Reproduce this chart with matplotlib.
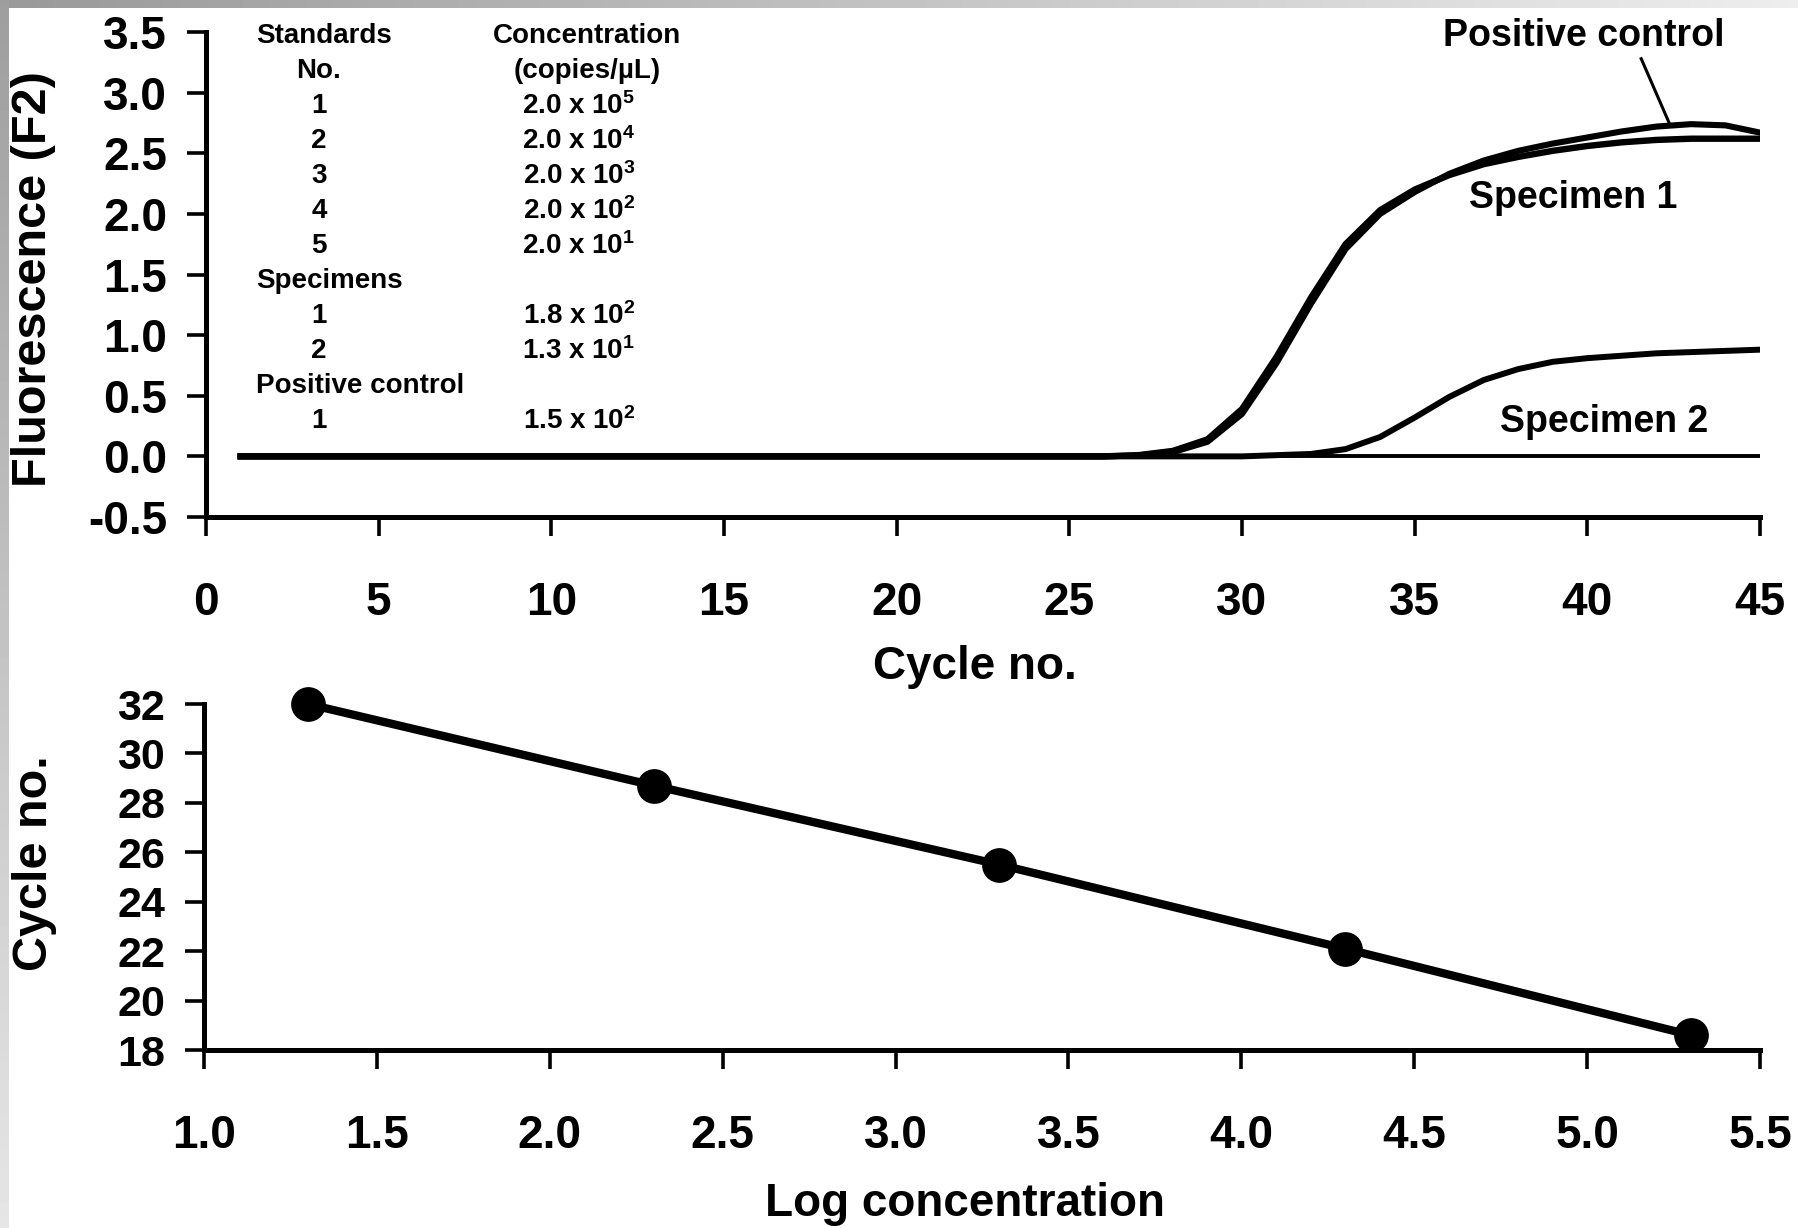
import numpy as np
import matplotlib
matplotlib.use("Agg")
import matplotlib.pyplot as plt

plt.rcParams['font.family'] = ['Liberation Sans', 'DejaVu Sans']
plt.rcParams['font.weight'] = 'bold'
plt.rcParams['mathtext.default'] = 'regular'

# amplification curves, fluorescence per cycle (cycles 1..45)
cycles = list(range(1, 46))
positive_control = [0.0, 0.0, 0.0, 0.0, 0.0, 0.0, 0.0, 0.0, 0.0, 0.0,
                    0.0, 0.0, 0.0, 0.0, 0.0, 0.0, 0.0, 0.0, 0.0, 0.0,
                    0.0, 0.0, 0.0, 0.0, 0.0, 0.0, 0.008, 0.035, 0.12, 0.35,
                    0.77, 1.26, 1.71, 2.0, 2.18, 2.33, 2.44, 2.52, 2.58, 2.63,
                    2.68, 2.72, 2.74, 2.73, 2.67]
specimen_1 = [0.0, 0.0, 0.0, 0.0, 0.0, 0.0, 0.0, 0.0, 0.0, 0.0,
              0.0, 0.0, 0.0, 0.0, 0.0, 0.0, 0.0, 0.0, 0.0, 0.0,
              0.0, 0.0, 0.0, 0.0, 0.0, 0.0, 0.01, 0.045, 0.14, 0.39,
              0.82, 1.31, 1.75, 2.03, 2.2, 2.32, 2.41, 2.47, 2.52, 2.56,
              2.59, 2.61, 2.62, 2.62, 2.62]
specimen_2 = [0.0, 0.0, 0.0, 0.0, 0.0, 0.0, 0.0, 0.0, 0.0, 0.0,
              0.0, 0.0, 0.0, 0.0, 0.0, 0.0, 0.0, 0.0, 0.0, 0.0,
              0.0, 0.0, 0.0, 0.0, 0.0, 0.0, 0.0, 0.0, 0.0, 0.0,
              0.01, 0.02, 0.06, 0.16, 0.32, 0.49, 0.63, 0.72, 0.78, 0.81,
              0.83, 0.85, 0.86, 0.87, 0.88]
negative = [0.0, 0.0, 0.0, 0.0, 0.0, 0.0, 0.0, 0.0, 0.0, 0.0,
            0.0, 0.0, 0.0, 0.0, 0.0, 0.0, 0.0, 0.0, 0.0, 0.0,
            0.0, 0.0, 0.0, 0.0, 0.0, 0.0, 0.0, 0.0, 0.0, 0.0,
            0.0, 0.0, 0.0, 0.0, 0.0, 0.0, 0.0, 0.0, 0.0, 0.0,
            0.0, 0.0, 0.0, 0.0, 0.0]

# standard curve
log_conc = [1.3, 2.3, 3.3, 4.3, 5.3]
ct_cycle = [32.0, 28.7, 25.5, 22.1, 18.6]

# table in the top panel
std_no = ['1', '2', '3', '4', '5']
std_conc = ['2.0 x 10$^5$', '2.0 x 10$^4$', '2.0 x 10$^3$', '2.0 x 10$^2$', '2.0 x 10$^1$']
spec_no = ['1', '2']
spec_conc = ['1.8 x 10$^2$', '1.3 x 10$^1$']
pc_no = ['1']
pc_conc = ['1.5 x 10$^2$']

W, H = 1798, 1228
fig = plt.figure(figsize=(W / 100, H / 100), dpi=100)

# grey frame strips at the top and left edge
top = fig.add_axes([0, 1 - 8 / H, 1, 8 / H])
top.imshow(np.linspace(0.6, 0.93, 200)[None, :], aspect='auto', cmap='gray', vmin=0, vmax=1)
top.axis('off')
left = fig.add_axes([0, 0, 9 / W, 1])
left.imshow(np.linspace(0.62, 0.9, 200)[:, None], aspect='auto', cmap='gray', vmin=0, vmax=1)
left.axis('off')


def style(ax):
    for s in ['top', 'right']:
        ax.spines[s].set_visible(False)
    for s in ['left', 'bottom']:
        ax.spines[s].set_linewidth(3.6)
    ax.tick_params(direction='out', length=14, width=2.6, labelsize=33)
    ax.tick_params(axis='x', pad=32)
    ax.tick_params(axis='y', pad=14)
    for t in ax.get_xticklabels() + ax.get_yticklabels():
        t.set_fontweight('bold')


# ---- top panel: amplification curves
ax1 = fig.add_axes([206 / W, 1 - 517 / H, 1554 / W, 485 / H])
ax1.plot(cycles, negative, color='black', lw=2.8)
ax1.plot(cycles, specimen_2, color='black', lw=4.3, solid_joinstyle='round')
ax1.plot(cycles, specimen_1, color='black', lw=4.6, solid_joinstyle='round')
ax1.plot(cycles, positive_control, color='black', lw=4.4, solid_joinstyle='round')
ax1.set_xlim(0, 45)
ax1.set_ylim(-0.5, 3.5)
ax1.set_xticks(range(0, 46, 5))
ax1.set_yticks(np.arange(-0.5, 3.51, 0.5))
ax1.set_yticklabels(['%.1f' % v for v in np.arange(-0.5, 3.51, 0.5)])
style(ax1)
ax1.set_xlabel('Cycle no.', fontsize=33, fontweight='bold', va='center')
ax1.xaxis.set_label_coords(0.495, -0.31)
ax1.set_ylabel('Fluorescence (F2)', fontsize=35, fontweight='bold', va='center')
ax1.yaxis.set_label_coords(-0.111, 0.49)

ax1.text(39.9, 3.47, 'Positive control', fontsize=27, fontweight='bold', ha='center', va='center')
ax1.plot([41.56, 42.4], [3.28, 2.73], color='black', lw=2.2)
ax1.text(39.6, 2.13, 'Specimen 1', fontsize=27, fontweight='bold', ha='center', va='center')
ax1.text(40.5, 0.28, 'Specimen 2', fontsize=27, fontweight='bold', ha='center', va='center')

# table
tfs = 20
x_left, x_no, x_conc = 1.45, 3.27, 10.8
row0, dy = 3.47, 0.289
ax1.text(x_left, row0, 'Standards', fontsize=tfs, fontweight='bold', va='center')
ax1.text(x_no, row0 - dy, 'No.', fontsize=tfs, fontweight='bold', ha='center', va='center')
ax1.text(11.03, row0, 'Concentration', fontsize=tfs, fontweight='bold', ha='center', va='center')
ax1.text(11.03, row0 - dy, '(copies/\u00b5L)', fontsize=tfs, fontweight='bold', ha='center', va='center')
r = 2
for n, c in zip(std_no, std_conc):
    ax1.text(x_no, row0 - r * dy, n, fontsize=tfs, fontweight='bold', ha='center', va='center')
    ax1.text(x_conc, row0 - r * dy, c, fontsize=tfs, fontweight='bold', ha='center', va='center')
    r += 1
ax1.text(x_left, row0 - r * dy, 'Specimens', fontsize=tfs, fontweight='bold', va='center')
r += 1
for n, c in zip(spec_no, spec_conc):
    ax1.text(x_no, row0 - r * dy, n, fontsize=tfs, fontweight='bold', ha='center', va='center')
    ax1.text(x_conc, row0 - r * dy, c, fontsize=tfs, fontweight='bold', ha='center', va='center')
    r += 1
ax1.text(x_left, row0 - r * dy, 'Positive control', fontsize=tfs, fontweight='bold', va='center')
r += 1
for n, c in zip(pc_no, pc_conc):
    ax1.text(x_no, row0 - r * dy, n, fontsize=tfs, fontweight='bold', ha='center', va='center')
    ax1.text(x_conc, row0 - r * dy, c, fontsize=tfs, fontweight='bold', ha='center', va='center')
    r += 1

# ---- bottom panel: standard curve
ax2 = fig.add_axes([204 / W, 1 - 1050 / H, 1556 / W, 346 / H])
ax2.plot(log_conc, ct_cycle, color='black', lw=6, marker='o', markersize=24,
         clip_on=False, zorder=5)
ax2.set_xlim(1.0, 5.5)
ax2.set_ylim(18, 32)
ax2.set_xticks(np.arange(1.0, 5.51, 0.5))
ax2.set_xticklabels(['%.1f' % v for v in np.arange(1.0, 5.51, 0.5)])
ax2.set_yticks(range(18, 33, 2))
style(ax2)
ax2.tick_params(axis='y', labelsize=31)
ax2.set_xlabel('Log concentration', fontsize=33, fontweight='bold', va='center')
ax2.xaxis.set_label_coords(0.489, -0.445)
ax2.set_ylabel('Cycle no.', fontsize=35, fontweight='bold', va='center')
ax2.yaxis.set_label_coords(-0.109, 0.54)

fig.savefig('out.png', dpi=100)
